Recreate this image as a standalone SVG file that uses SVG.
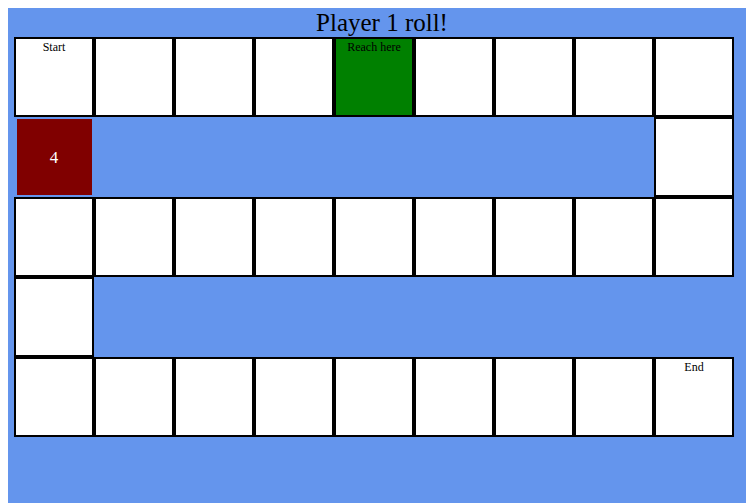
<svg xmlns="http://www.w3.org/2000/svg" width="746" height="503" viewBox="0 0 746 503">
  <style>
    .cell { fill: #ffffff; stroke: #000000; stroke-width: 2; }
    .goal { fill: #008000; stroke: #000000; stroke-width: 2; }
    .lbl { font-family: "Liberation Serif", "Times New Roman", serif; font-size: 12px; fill: #000000; text-anchor: middle; }
    .title { font-family: "Liberation Serif", "Times New Roman", serif; font-size: 25px; fill: #000000; text-anchor: middle; }
    .die { font-family: "Liberation Serif", "Times New Roman", serif; font-size: 17px; fill: #ffffff; text-anchor: middle; }
  </style>
  <rect x="0" y="0" width="746" height="503" fill="#ffffff"/>
  <rect x="8" y="8" width="738" height="495" fill="#6495ED"/>
  <text class="title" x="382" y="31">Player 1 roll!</text>

  <g id="row1">
    <g id="c1"><rect class="cell" x="15" y="38" width="78" height="78"/><text class="lbl" x="54" y="51">Start</text></g>
    <g id="c2"><rect class="cell" x="95" y="38" width="78" height="78"/></g>
    <g id="c3"><rect class="cell" x="175" y="38" width="78" height="78"/></g>
    <g id="c4"><rect class="cell" x="255" y="38" width="78" height="78"/></g>
    <g id="c5"><rect class="goal" x="335" y="38" width="78" height="78"/><text class="lbl" x="374" y="51">Reach here</text></g>
    <g id="c6"><rect class="cell" x="415" y="38" width="78" height="78"/></g>
    <g id="c7"><rect class="cell" x="495" y="38" width="78" height="78"/></g>
    <g id="c8"><rect class="cell" x="575" y="38" width="78" height="78"/></g>
    <g id="c9"><rect class="cell" x="655" y="38" width="78" height="78"/></g>
  </g>

  <g id="row2">
    <g id="die"><rect x="17" y="119" width="75" height="76" fill="#800000"/><text class="die" x="54" y="163">4</text></g>
    <g id="c10"><rect class="cell" x="655" y="118" width="78" height="78"/></g>
  </g>

  <g id="row3">
    <g id="c11"><rect class="cell" x="15" y="198" width="78" height="78"/></g>
    <g id="c12"><rect class="cell" x="95" y="198" width="78" height="78"/></g>
    <g id="c13"><rect class="cell" x="175" y="198" width="78" height="78"/></g>
    <g id="c14"><rect class="cell" x="255" y="198" width="78" height="78"/></g>
    <g id="c15"><rect class="cell" x="335" y="198" width="78" height="78"/></g>
    <g id="c16"><rect class="cell" x="415" y="198" width="78" height="78"/></g>
    <g id="c17"><rect class="cell" x="495" y="198" width="78" height="78"/></g>
    <g id="c18"><rect class="cell" x="575" y="198" width="78" height="78"/></g>
    <g id="c19"><rect class="cell" x="655" y="198" width="78" height="78"/></g>
  </g>

  <g id="row4">
    <g id="c20"><rect class="cell" x="15" y="278" width="78" height="78"/></g>
  </g>

  <g id="row5">
    <g id="c21"><rect class="cell" x="15" y="358" width="78" height="78"/></g>
    <g id="c22"><rect class="cell" x="95" y="358" width="78" height="78"/></g>
    <g id="c23"><rect class="cell" x="175" y="358" width="78" height="78"/></g>
    <g id="c24"><rect class="cell" x="255" y="358" width="78" height="78"/></g>
    <g id="c25"><rect class="cell" x="335" y="358" width="78" height="78"/></g>
    <g id="c26"><rect class="cell" x="415" y="358" width="78" height="78"/></g>
    <g id="c27"><rect class="cell" x="495" y="358" width="78" height="78"/></g>
    <g id="c28"><rect class="cell" x="575" y="358" width="78" height="78"/></g>
    <g id="c29"><rect class="cell" x="655" y="358" width="78" height="78"/><text class="lbl" x="694" y="371">End</text></g>
  </g>

  <g id="connectors"></g>
</svg>
